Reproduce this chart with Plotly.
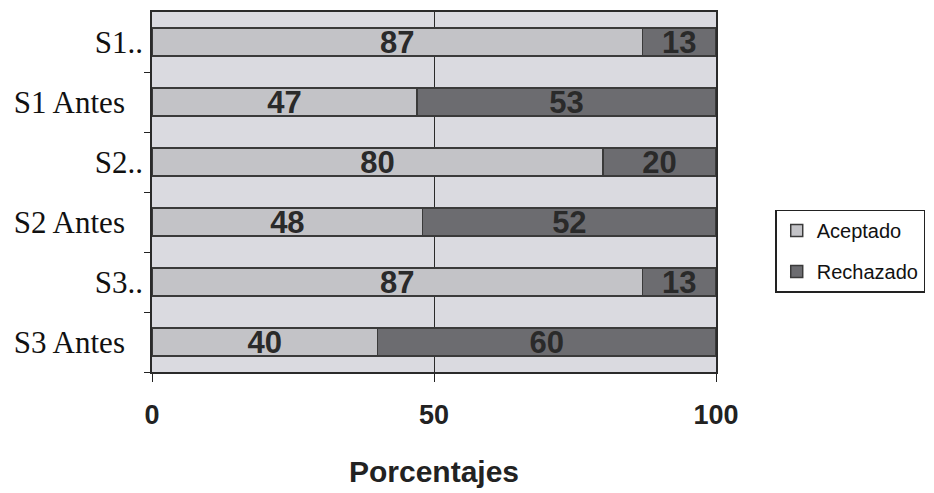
import plotly.graph_objects as go

categories = ["S1..", "S1 Antes", "S2..", "S2 Antes", "S3..", "S3 Antes"]
aceptado = [87, 47, 80, 48, 87, 40]
rechazado = [13, 53, 20, 52, 13, 60]
x_ticks = [0, 50, 100]

# Excel right-aligns the full labels a little left of the truncated ones
y_ticktext = [c if c.endswith("..") else c + "\u00a0\u00a0\u200a" for c in categories]

label_font = dict(family="Liberation Sans Narrow, Arial Narrow, Liberation Sans", size=31,
                  color="#2a2a2a", weight="bold")

fig = go.Figure()
fig.add_trace(go.Bar(
    y=categories, x=aceptado, name="Aceptado", orientation="h", legendgroup="a",
    marker=dict(color="#c3c3c7", line=dict(color="#3a3a3a", width=1.5)),
    text=[str(v) for v in aceptado], textposition="inside", insidetextanchor="middle",
    textangle=0, constraintext="none", textfont=label_font,
    width=0.47,
))
fig.add_trace(go.Bar(
    y=categories, x=rechazado, name="Rechazado", orientation="h", legendgroup="b",
    marker=dict(color="#6c6c70", line=dict(color="#3a3a3a", width=1.5)),
    text=[str(v) for v in rechazado], textposition="inside", insidetextanchor="middle",
    textangle=0, constraintext="none", textfont=label_font,
    width=0.47,
))

fig.update_layout(
    barmode="stack",
    width=934, height=493,
    margin=dict(l=144, r=226, t=4, b=129, autoexpand=False),
    paper_bgcolor="white",
    plot_bgcolor="#dadae0",
    uniformtext=dict(mode="show", minsize=10),
    legend=dict(
        x=1.105, y=0.336, xanchor="left", yanchor="middle",
        font=dict(family="Liberation Sans", size=20, color="#111"),
        bordercolor="#222", borderwidth=1.5, bgcolor="white",
        itemwidth=30, traceorder="grouped",
        tracegroupgap=12,
    ),
    xaxis=dict(
        range=[0, 100], tickvals=x_ticks, ticktext=[str(v) for v in x_ticks],
        tickfont=dict(family="Liberation Sans", size=27, color="#222", weight="bold"),
        showgrid=True, gridcolor="#2a2a2a", gridwidth=1.2,
        zeroline=False, showline=True, linecolor="#2a2a2a", linewidth=1.5, mirror=True,
        ticks="outside", ticklen=8, tickcolor="#222", ticklabelstandoff=10,
        automargin=False,
        title=dict(text="<b>Porcentajes</b>", font=dict(family="Liberation Sans", size=30, color="#222"),
                   standoff=32),
    ),
    yaxis=dict(
        categoryorder="array", categoryarray=categories[::-1],
        tickvals=categories, ticktext=y_ticktext,
        tickfont=dict(family="Liberation Serif", size=31, color="#111"),
        showline=True, linecolor="#2a2a2a", linewidth=1.5, mirror=True,
        ticks="outside", tickson="boundaries", ticklen=6, tickcolor="#222",
        showgrid=False, ticklabelstandoff=1, automargin=False,
    ),
)

fig.write_html("out.html")
